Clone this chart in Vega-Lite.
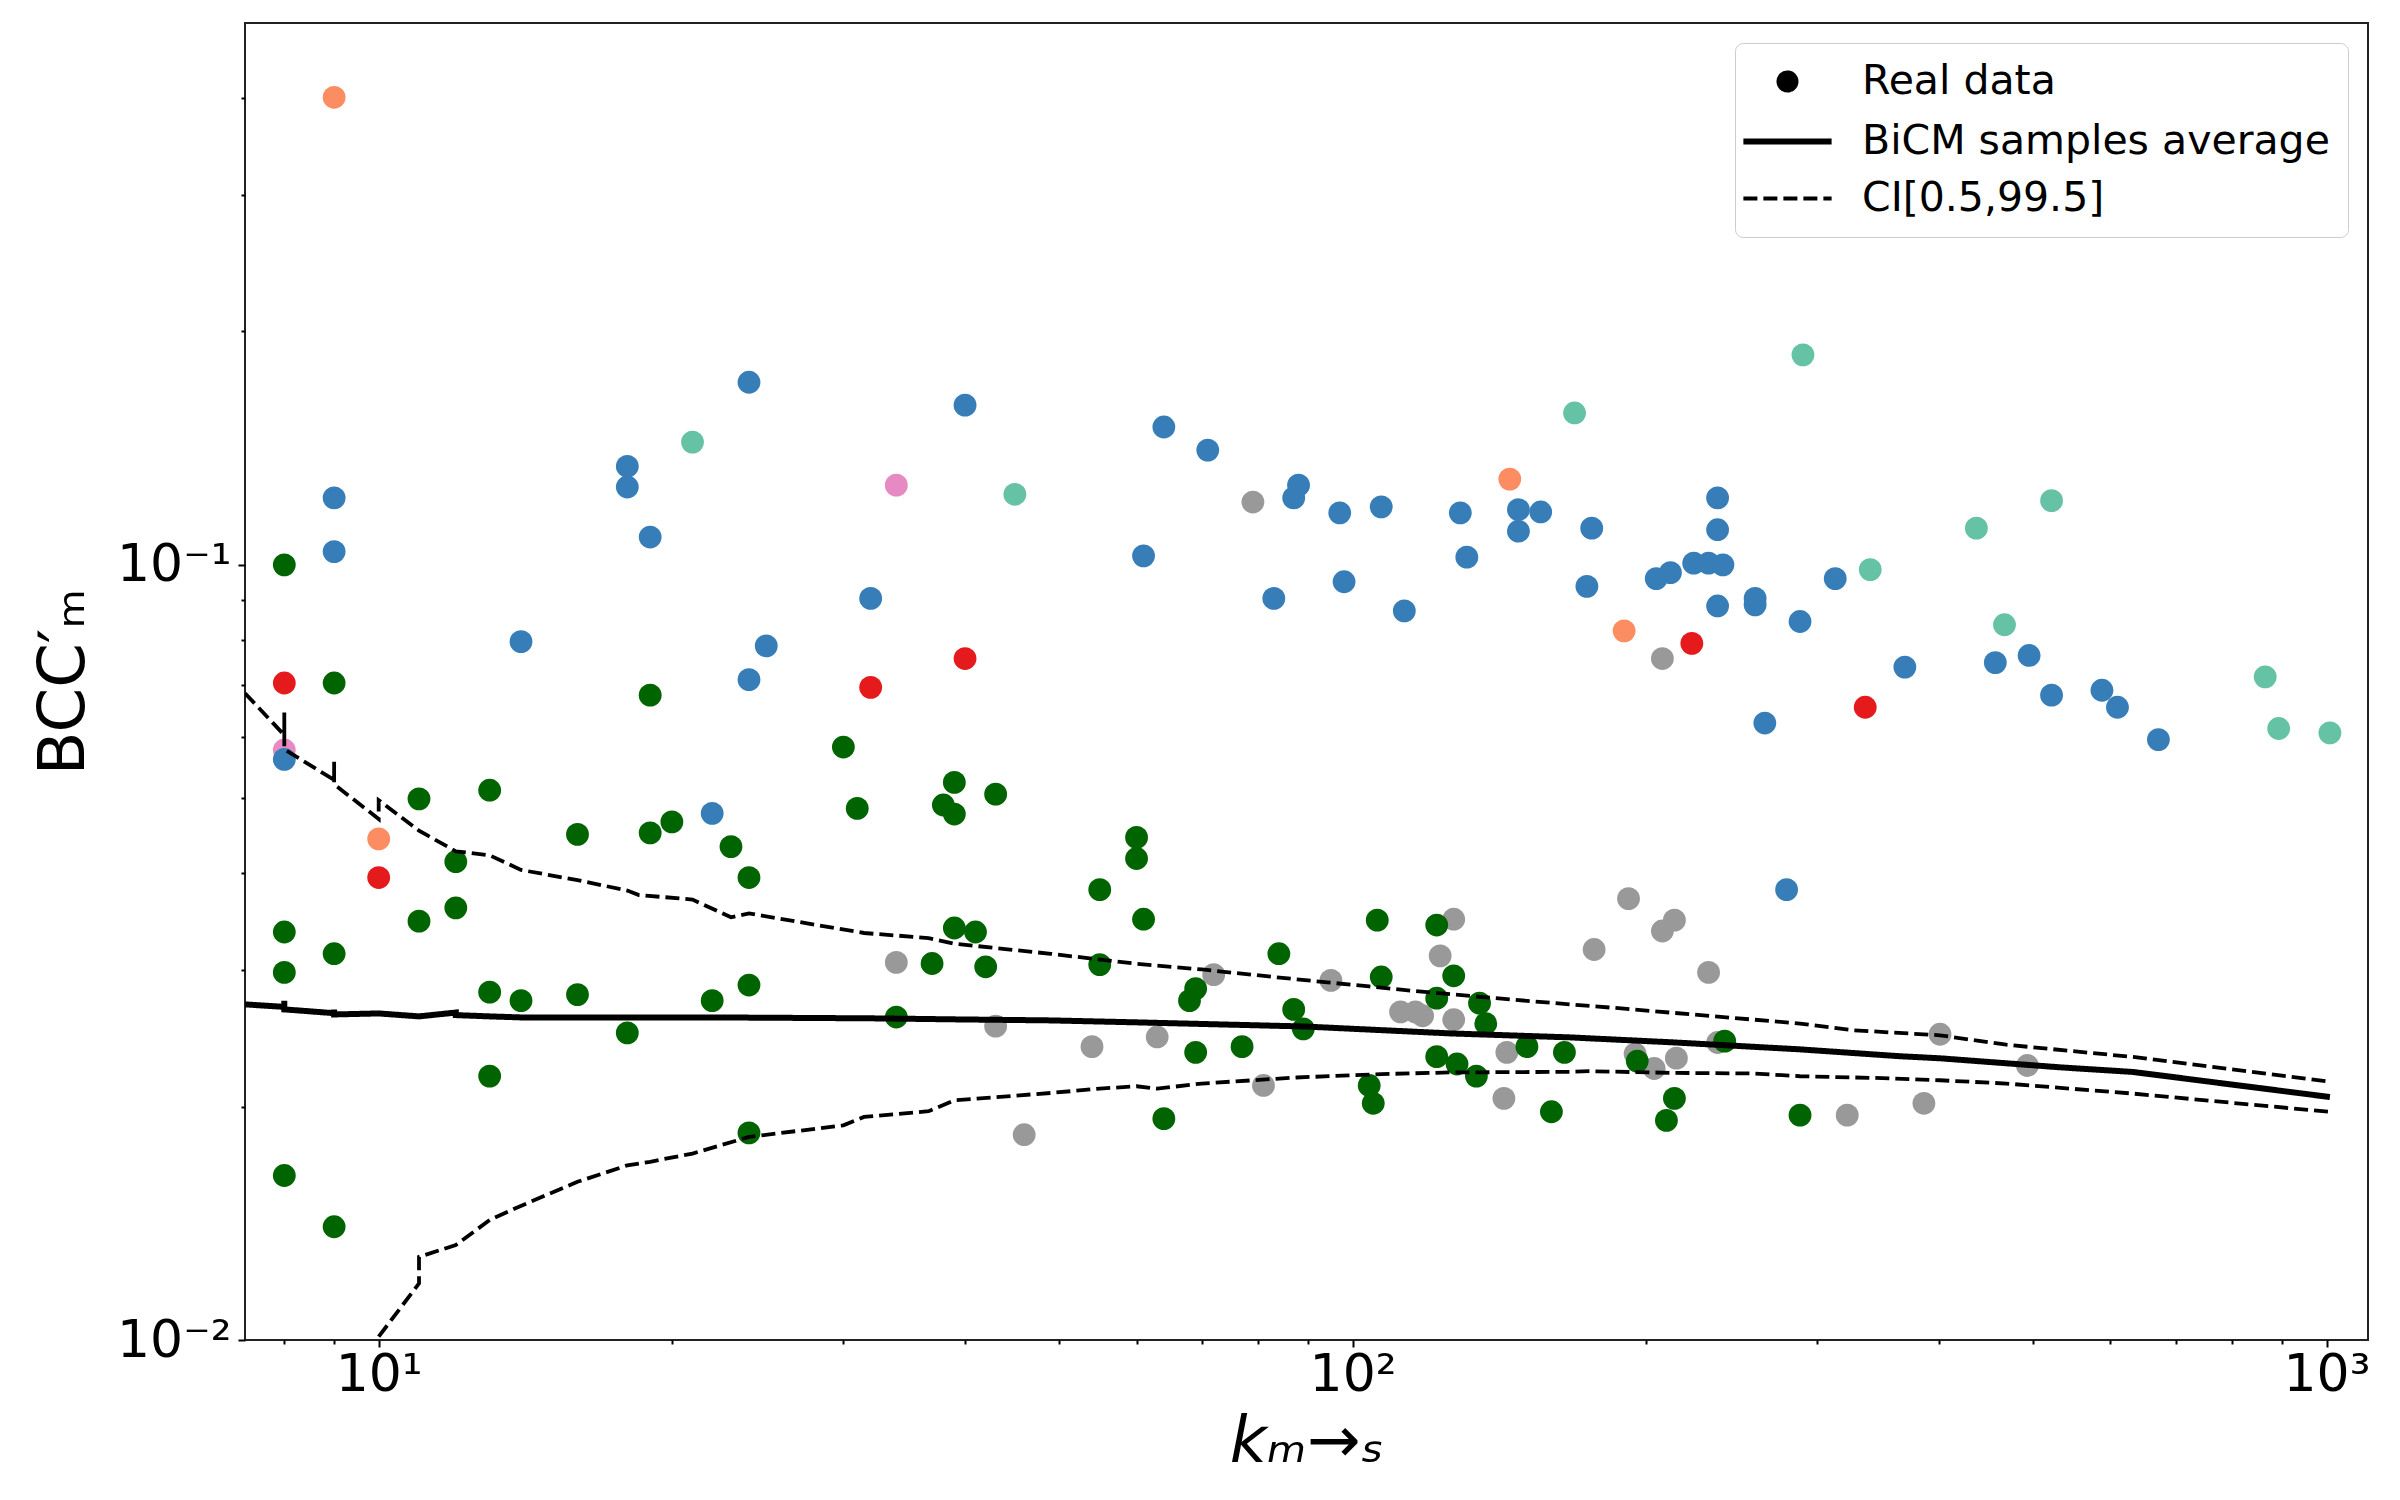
{
  "$schema": "https://vega.github.io/schema/vega-lite/v6.json",
  "width": 2123,
  "height": 1317,
  "autosize": {"type": "none"},
  "padding": {"left": 245, "top": 23, "right": 32, "bottom": 160},
  "background": "white",
  "config": {
    "view": {"stroke": "#222222", "strokeWidth": 2},
    "axis": {
      "domain": false,
      "grid": false,
      "tickColor": "black",
      "tickWidth": 2,
      "labelFont": "DejaVu Sans",
      "labelFontSize": 52,
      "labelColor": "black",
      "labelOverlap": false,
      "labelFlush": false,
      "titleFont": "DejaVu Sans",
      "titleFontSize": 64,
      "titleFontWeight": "normal",
      "titleColor": "black"
    },
    "legend": {
      "title": null,
      "orient": "top-right",
      "offset": 20,
      "labelFont": "DejaVu Sans",
      "labelFontSize": 41,
      "labelColor": "black",
      "labelLimit": 2000,
      "symbolSize": 190,
      "symbolFillColor": "black",
      "symbolStrokeColor": "black",
      "symbolOpacity": 1,
      "symbolOffset": 14,
      "labelOffset": 54,
      "rowPadding": 15,
      "padding": 18,
      "fillColor": "rgba(255,255,255,0.8)",
      "strokeColor": "#cccccc",
      "cornerRadius": 8
    }
  },
  "datasets": {
    "pts": [
      {"k": 34, "v": 0.0307, "g": "G7"}, {"k": 43, "v": 0.0254, "g": "G7"}, {"k": 46, "v": 0.0184, "g": "G7"},
      {"k": 54, "v": 0.0239, "g": "G7"}, {"k": 63, "v": 0.0246, "g": "G7"}, {"k": 72, "v": 0.0296, "g": "G7"},
      {"k": 79, "v": 0.1205, "g": "G7"}, {"k": 81, "v": 0.0213, "g": "G7"}, {"k": 95, "v": 0.0291, "g": "G7"},
      {"k": 112, "v": 0.0265, "g": "G7"}, {"k": 116, "v": 0.0265, "g": "G7"}, {"k": 118, "v": 0.0262, "g": "G7"},
      {"k": 123, "v": 0.0313, "g": "G7"}, {"k": 127, "v": 0.0349, "g": "G7"}, {"k": 127, "v": 0.0259, "g": "G7"},
      {"k": 144, "v": 0.0235, "g": "G7"}, {"k": 143, "v": 0.0205, "g": "G7"}, {"k": 177, "v": 0.0319, "g": "G7"},
      {"k": 192, "v": 0.0371, "g": "G7"}, {"k": 208, "v": 0.0757, "g": "G7"}, {"k": 208, "v": 0.0337, "g": "G7"},
      {"k": 214, "v": 0.0348, "g": "G7"}, {"k": 195, "v": 0.0234, "g": "G7"}, {"k": 204, "v": 0.0224, "g": "G7"},
      {"k": 215, "v": 0.0231, "g": "G7"}, {"k": 232, "v": 0.0298, "g": "G7"}, {"k": 237, "v": 0.0242, "g": "G7"},
      {"k": 322, "v": 0.0195, "g": "G7"}, {"k": 386, "v": 0.0202, "g": "G7"}, {"k": 401, "v": 0.0248, "g": "G7"},
      {"k": 493, "v": 0.0226, "g": "G7"},
      {"k": 8, "v": 0.0577, "g": "G6"}, {"k": 34, "v": 0.1267, "g": "G6"},
      {"k": 21, "v": 0.144, "g": "G2"}, {"k": 45, "v": 0.1233, "g": "G2"}, {"k": 169, "v": 0.157, "g": "G2"},
      {"k": 290, "v": 0.1866, "g": "G2"}, {"k": 340, "v": 0.0986, "g": "G2"}, {"k": 437, "v": 0.1115, "g": "G2"},
      {"k": 467, "v": 0.0837, "g": "G2"}, {"k": 522, "v": 0.121, "g": "G2"}, {"k": 865, "v": 0.0717, "g": "G2"},
      {"k": 893, "v": 0.0615, "g": "G2"}, {"k": 1008, "v": 0.0607, "g": "G2"},
      {"k": 9, "v": 0.401, "g": "G3"}, {"k": 10, "v": 0.0443, "g": "G3"}, {"k": 145, "v": 0.129, "g": "G3"},
      {"k": 190, "v": 0.0822, "g": "G3"},
      {"k": 8, "v": 0.0704, "g": "G4"}, {"k": 10, "v": 0.0395, "g": "G4"}, {"k": 32, "v": 0.0695, "g": "G4"},
      {"k": 40, "v": 0.0757, "g": "G4"}, {"k": 223, "v": 0.0792, "g": "G4"}, {"k": 336, "v": 0.0655, "g": "G4"},
      {"k": 8, "v": 0.1, "g": "G5"}, {"k": 8, "v": 0.0336, "g": "G5"}, {"k": 8, "v": 0.0298, "g": "G5"},
      {"k": 8, "v": 0.0163, "g": "G5"}, {"k": 9, "v": 0.0704, "g": "G5"}, {"k": 9, "v": 0.0315, "g": "G5"},
      {"k": 9, "v": 0.014, "g": "G5"}, {"k": 11, "v": 0.0499, "g": "G5"}, {"k": 11, "v": 0.0347, "g": "G5"},
      {"k": 12, "v": 0.0414, "g": "G5"}, {"k": 12, "v": 0.0361, "g": "G5"}, {"k": 13, "v": 0.0512, "g": "G5"},
      {"k": 13, "v": 0.0281, "g": "G5"}, {"k": 13, "v": 0.0219, "g": "G5"}, {"k": 14, "v": 0.0274, "g": "G5"},
      {"k": 16, "v": 0.0449, "g": "G5"}, {"k": 16, "v": 0.0279, "g": "G5"}, {"k": 18, "v": 0.0249, "g": "G5"},
      {"k": 19, "v": 0.0679, "g": "G5"}, {"k": 19, "v": 0.0451, "g": "G5"}, {"k": 20, "v": 0.0466, "g": "G5"},
      {"k": 22, "v": 0.0274, "g": "G5"}, {"k": 23, "v": 0.0433, "g": "G5"}, {"k": 24, "v": 0.0395, "g": "G5"},
      {"k": 24, "v": 0.0287, "g": "G5"}, {"k": 24, "v": 0.0185, "g": "G5"}, {"k": 30, "v": 0.0582, "g": "G5"},
      {"k": 31, "v": 0.0485, "g": "G5"}, {"k": 34, "v": 0.0261, "g": "G5"}, {"k": 37, "v": 0.0306, "g": "G5"},
      {"k": 38, "v": 0.049, "g": "G5"}, {"k": 39, "v": 0.0524, "g": "G5"}, {"k": 39, "v": 0.0477, "g": "G5"},
      {"k": 39, "v": 0.034, "g": "G5"}, {"k": 41, "v": 0.0336, "g": "G5"}, {"k": 42, "v": 0.0303, "g": "G5"},
      {"k": 43, "v": 0.0506, "g": "G5"}, {"k": 55, "v": 0.0381, "g": "G5"}, {"k": 55, "v": 0.0305, "g": "G5"},
      {"k": 60, "v": 0.0445, "g": "G5"}, {"k": 60, "v": 0.0418, "g": "G5"}, {"k": 61, "v": 0.0349, "g": "G5"},
      {"k": 64, "v": 0.0193, "g": "G5"}, {"k": 68, "v": 0.0274, "g": "G5"}, {"k": 69, "v": 0.0284, "g": "G5"},
      {"k": 69, "v": 0.0235, "g": "G5"}, {"k": 77, "v": 0.0239, "g": "G5"}, {"k": 84, "v": 0.0315, "g": "G5"},
      {"k": 87, "v": 0.0267, "g": "G5"}, {"k": 89, "v": 0.0252, "g": "G5"}, {"k": 106, "v": 0.0348, "g": "G5"},
      {"k": 107, "v": 0.0294, "g": "G5"}, {"k": 104, "v": 0.0213, "g": "G5"}, {"k": 105, "v": 0.0202, "g": "G5"},
      {"k": 122, "v": 0.0343, "g": "G5"}, {"k": 122, "v": 0.0276, "g": "G5"}, {"k": 122, "v": 0.0232, "g": "G5"},
      {"k": 127, "v": 0.0295, "g": "G5"}, {"k": 128, "v": 0.0227, "g": "G5"}, {"k": 134, "v": 0.0219, "g": "G5"},
      {"k": 135, "v": 0.0272, "g": "G5"}, {"k": 137, "v": 0.0256, "g": "G5"}, {"k": 151, "v": 0.0239, "g": "G5"},
      {"k": 160, "v": 0.0197, "g": "G5"}, {"k": 165, "v": 0.0235, "g": "G5"}, {"k": 196, "v": 0.0229, "g": "G5"},
      {"k": 210, "v": 0.0192, "g": "G5"}, {"k": 214, "v": 0.0205, "g": "G5"}, {"k": 241, "v": 0.0243, "g": "G5"},
      {"k": 288, "v": 0.0195, "g": "G5"},
      {"k": 8, "v": 0.0561, "g": "G1"}, {"k": 9, "v": 0.122, "g": "G1"}, {"k": 9, "v": 0.104, "g": "G1"},
      {"k": 14, "v": 0.0796, "g": "G1"}, {"k": 18, "v": 0.134, "g": "G1"}, {"k": 18, "v": 0.126, "g": "G1"},
      {"k": 19, "v": 0.1086, "g": "G1"}, {"k": 22, "v": 0.0478, "g": "G1"}, {"k": 24, "v": 0.172, "g": "G1"},
      {"k": 24, "v": 0.0711, "g": "G1"}, {"k": 25, "v": 0.0786, "g": "G1"}, {"k": 32, "v": 0.0905, "g": "G1"},
      {"k": 40, "v": 0.1607, "g": "G1"}, {"k": 61, "v": 0.1027, "g": "G1"}, {"k": 64, "v": 0.1506, "g": "G1"},
      {"k": 71, "v": 0.1406, "g": "G1"}, {"k": 83, "v": 0.0905, "g": "G1"}, {"k": 87, "v": 0.122, "g": "G1"},
      {"k": 88, "v": 0.1267, "g": "G1"}, {"k": 97, "v": 0.1167, "g": "G1"}, {"k": 98, "v": 0.0951, "g": "G1"},
      {"k": 107, "v": 0.1188, "g": "G1"}, {"k": 113, "v": 0.0872, "g": "G1"}, {"k": 129, "v": 0.1167, "g": "G1"},
      {"k": 131, "v": 0.1023, "g": "G1"}, {"k": 148, "v": 0.1178, "g": "G1"}, {"k": 148, "v": 0.1105, "g": "G1"},
      {"k": 156, "v": 0.117, "g": "G1"}, {"k": 174, "v": 0.0938, "g": "G1"}, {"k": 176, "v": 0.1115, "g": "G1"},
      {"k": 205, "v": 0.096, "g": "G1"}, {"k": 212, "v": 0.0977, "g": "G1"}, {"k": 224, "v": 0.1005, "g": "G1"},
      {"k": 232, "v": 0.1005, "g": "G1"}, {"k": 240, "v": 0.1, "g": "G1"}, {"k": 237, "v": 0.122, "g": "G1"},
      {"k": 237, "v": 0.111, "g": "G1"}, {"k": 237, "v": 0.0885, "g": "G1"}, {"k": 259, "v": 0.0905, "g": "G1"},
      {"k": 259, "v": 0.0888, "g": "G1"}, {"k": 265, "v": 0.0625, "g": "G1"}, {"k": 279, "v": 0.0381, "g": "G1"},
      {"k": 288, "v": 0.0845, "g": "G1"}, {"k": 313, "v": 0.096, "g": "G1"}, {"k": 369, "v": 0.0738, "g": "G1"},
      {"k": 457, "v": 0.0748, "g": "G1"}, {"k": 495, "v": 0.0764, "g": "G1"}, {"k": 522, "v": 0.0679, "g": "G1"},
      {"k": 588, "v": 0.0689, "g": "G1"}, {"k": 610, "v": 0.0655, "g": "G1"}, {"k": 672, "v": 0.0595, "g": "G1"}
    ],
    "curves": [
      {"series": "avg", "style": "BiCM samples average", "i": 0, "k": 7.29, "v": 0.0271},
      {"series": "avg", "style": "BiCM samples average", "i": 1, "k": 8, "v": 0.0269},
      {"series": "avg", "style": "BiCM samples average", "i": 2, "k": 8, "v": 0.0274},
      {"series": "avg", "style": "BiCM samples average", "i": 3, "k": 8, "v": 0.0267},
      {"series": "avg", "style": "BiCM samples average", "i": 4, "k": 9, "v": 0.0264},
      {"series": "avg", "style": "BiCM samples average", "i": 5, "k": 9, "v": 0.0267},
      {"series": "avg", "style": "BiCM samples average", "i": 6, "k": 9, "v": 0.0263},
      {"series": "avg", "style": "BiCM samples average", "i": 7, "k": 10, "v": 0.02638},
      {"series": "avg", "style": "BiCM samples average", "i": 8, "k": 11, "v": 0.02615},
      {"series": "avg", "style": "BiCM samples average", "i": 9, "k": 12, "v": 0.02645},
      {"series": "avg", "style": "BiCM samples average", "i": 10, "k": 12, "v": 0.02625},
      {"series": "avg", "style": "BiCM samples average", "i": 11, "k": 13, "v": 0.02615},
      {"series": "avg", "style": "BiCM samples average", "i": 12, "k": 14, "v": 0.02607},
      {"series": "avg", "style": "BiCM samples average", "i": 13, "k": 18, "v": 0.02607},
      {"series": "avg", "style": "BiCM samples average", "i": 14, "k": 22, "v": 0.02607},
      {"series": "avg", "style": "BiCM samples average", "i": 15, "k": 32, "v": 0.026},
      {"series": "avg", "style": "BiCM samples average", "i": 16, "k": 39, "v": 0.02592},
      {"series": "avg", "style": "BiCM samples average", "i": 17, "k": 49, "v": 0.02584},
      {"series": "avg", "style": "BiCM samples average", "i": 18, "k": 60, "v": 0.02569},
      {"series": "avg", "style": "BiCM samples average", "i": 19, "k": 89, "v": 0.02538},
      {"series": "avg", "style": "BiCM samples average", "i": 20, "k": 126, "v": 0.02486},
      {"series": "avg", "style": "BiCM samples average", "i": 21, "k": 167, "v": 0.02457},
      {"series": "avg", "style": "BiCM samples average", "i": 22, "k": 213, "v": 0.02421},
      {"series": "avg", "style": "BiCM samples average", "i": 23, "k": 288, "v": 0.02371},
      {"series": "avg", "style": "BiCM samples average", "i": 24, "k": 365, "v": 0.02323},
      {"series": "avg", "style": "BiCM samples average", "i": 25, "k": 401, "v": 0.02309},
      {"series": "avg", "style": "BiCM samples average", "i": 26, "k": 532, "v": 0.02248},
      {"series": "avg", "style": "BiCM samples average", "i": 27, "k": 633, "v": 0.02217},
      {"series": "avg", "style": "BiCM samples average", "i": 28, "k": 1008, "v": 0.02058},
      {"series": "upper", "style": "CI[0.5,99.5]", "i": 0, "k": 7.29, "v": 0.0683},
      {"series": "upper", "style": "CI[0.5,99.5]", "i": 1, "k": 8, "v": 0.0603},
      {"series": "upper", "style": "CI[0.5,99.5]", "i": 2, "k": 8, "v": 0.0645},
      {"series": "upper", "style": "CI[0.5,99.5]", "i": 3, "k": 8, "v": 0.0578},
      {"series": "upper", "style": "CI[0.5,99.5]", "i": 4, "k": 9, "v": 0.0528},
      {"series": "upper", "style": "CI[0.5,99.5]", "i": 5, "k": 9, "v": 0.0557},
      {"series": "upper", "style": "CI[0.5,99.5]", "i": 6, "k": 9, "v": 0.0521},
      {"series": "upper", "style": "CI[0.5,99.5]", "i": 7, "k": 10, "v": 0.047},
      {"series": "upper", "style": "CI[0.5,99.5]", "i": 8, "k": 10, "v": 0.0497},
      {"series": "upper", "style": "CI[0.5,99.5]", "i": 9, "k": 11, "v": 0.0454},
      {"series": "upper", "style": "CI[0.5,99.5]", "i": 10, "k": 12, "v": 0.0427},
      {"series": "upper", "style": "CI[0.5,99.5]", "i": 11, "k": 13, "v": 0.0422},
      {"series": "upper", "style": "CI[0.5,99.5]", "i": 12, "k": 14, "v": 0.0404},
      {"series": "upper", "style": "CI[0.5,99.5]", "i": 13, "k": 16, "v": 0.0392},
      {"series": "upper", "style": "CI[0.5,99.5]", "i": 14, "k": 18, "v": 0.038},
      {"series": "upper", "style": "CI[0.5,99.5]", "i": 15, "k": 18.5, "v": 0.0375},
      {"series": "upper", "style": "CI[0.5,99.5]", "i": 16, "k": 21, "v": 0.037},
      {"series": "upper", "style": "CI[0.5,99.5]", "i": 17, "k": 23, "v": 0.0351},
      {"series": "upper", "style": "CI[0.5,99.5]", "i": 18, "k": 24, "v": 0.0355},
      {"series": "upper", "style": "CI[0.5,99.5]", "i": 19, "k": 31.5, "v": 0.0335},
      {"series": "upper", "style": "CI[0.5,99.5]", "i": 20, "k": 36.7, "v": 0.033},
      {"series": "upper", "style": "CI[0.5,99.5]", "i": 21, "k": 39, "v": 0.03245},
      {"series": "upper", "style": "CI[0.5,99.5]", "i": 22, "k": 49, "v": 0.03149},
      {"series": "upper", "style": "CI[0.5,99.5]", "i": 23, "k": 60, "v": 0.03057},
      {"series": "upper", "style": "CI[0.5,99.5]", "i": 24, "k": 70, "v": 0.03006},
      {"series": "upper", "style": "CI[0.5,99.5]", "i": 25, "k": 86.5, "v": 0.02924},
      {"series": "upper", "style": "CI[0.5,99.5]", "i": 26, "k": 104, "v": 0.02858},
      {"series": "upper", "style": "CI[0.5,99.5]", "i": 27, "k": 116, "v": 0.02819},
      {"series": "upper", "style": "CI[0.5,99.5]", "i": 28, "k": 136, "v": 0.02769},
      {"series": "upper", "style": "CI[0.5,99.5]", "i": 29, "k": 167, "v": 0.0271},
      {"series": "upper", "style": "CI[0.5,99.5]", "i": 30, "k": 190, "v": 0.02676},
      {"series": "upper", "style": "CI[0.5,99.5]", "i": 31, "k": 233, "v": 0.02618},
      {"series": "upper", "style": "CI[0.5,99.5]", "i": 32, "k": 288, "v": 0.0256},
      {"series": "upper", "style": "CI[0.5,99.5]", "i": 33, "k": 326, "v": 0.0251},
      {"series": "upper", "style": "CI[0.5,99.5]", "i": 34, "k": 401, "v": 0.02472},
      {"series": "upper", "style": "CI[0.5,99.5]", "i": 35, "k": 469, "v": 0.02404},
      {"series": "upper", "style": "CI[0.5,99.5]", "i": 36, "k": 633, "v": 0.02318},
      {"series": "upper", "style": "CI[0.5,99.5]", "i": 37, "k": 1008, "v": 0.02154},
      {"series": "lower", "style": "CI[0.5,99.5]", "i": 0, "k": 10, "v": 0.0101},
      {"series": "lower", "style": "CI[0.5,99.5]", "i": 1, "k": 11, "v": 0.01183},
      {"series": "lower", "style": "CI[0.5,99.5]", "i": 2, "k": 11, "v": 0.0128},
      {"series": "lower", "style": "CI[0.5,99.5]", "i": 3, "k": 12, "v": 0.01326},
      {"series": "lower", "style": "CI[0.5,99.5]", "i": 4, "k": 13, "v": 0.01428},
      {"series": "lower", "style": "CI[0.5,99.5]", "i": 5, "k": 13.8, "v": 0.01478},
      {"series": "lower", "style": "CI[0.5,99.5]", "i": 6, "k": 16, "v": 0.016},
      {"series": "lower", "style": "CI[0.5,99.5]", "i": 7, "k": 18, "v": 0.0168},
      {"series": "lower", "style": "CI[0.5,99.5]", "i": 8, "k": 19, "v": 0.01698},
      {"series": "lower", "style": "CI[0.5,99.5]", "i": 9, "k": 21, "v": 0.0174},
      {"series": "lower", "style": "CI[0.5,99.5]", "i": 10, "k": 24, "v": 0.01828},
      {"series": "lower", "style": "CI[0.5,99.5]", "i": 11, "k": 30, "v": 0.01892},
      {"series": "lower", "style": "CI[0.5,99.5]", "i": 12, "k": 31.5, "v": 0.0194},
      {"series": "lower", "style": "CI[0.5,99.5]", "i": 13, "k": 36.7, "v": 0.01973},
      {"series": "lower", "style": "CI[0.5,99.5]", "i": 14, "k": 39, "v": 0.02038},
      {"series": "lower", "style": "CI[0.5,99.5]", "i": 15, "k": 49, "v": 0.02083},
      {"series": "lower", "style": "CI[0.5,99.5]", "i": 16, "k": 55, "v": 0.0211},
      {"series": "lower", "style": "CI[0.5,99.5]", "i": 17, "k": 60, "v": 0.02125},
      {"series": "lower", "style": "CI[0.5,99.5]", "i": 18, "k": 63, "v": 0.0211},
      {"series": "lower", "style": "CI[0.5,99.5]", "i": 19, "k": 70, "v": 0.02142},
      {"series": "lower", "style": "CI[0.5,99.5]", "i": 20, "k": 87.6, "v": 0.02181},
      {"series": "lower", "style": "CI[0.5,99.5]", "i": 21, "k": 107, "v": 0.02203},
      {"series": "lower", "style": "CI[0.5,99.5]", "i": 22, "k": 126, "v": 0.02214},
      {"series": "lower", "style": "CI[0.5,99.5]", "i": 23, "k": 167, "v": 0.02218},
      {"series": "lower", "style": "CI[0.5,99.5]", "i": 24, "k": 175, "v": 0.02222},
      {"series": "lower", "style": "CI[0.5,99.5]", "i": 25, "k": 214, "v": 0.02211},
      {"series": "lower", "style": "CI[0.5,99.5]", "i": 26, "k": 258, "v": 0.02207},
      {"series": "lower", "style": "CI[0.5,99.5]", "i": 27, "k": 288, "v": 0.02189},
      {"series": "lower", "style": "CI[0.5,99.5]", "i": 28, "k": 344, "v": 0.02178},
      {"series": "lower", "style": "CI[0.5,99.5]", "i": 29, "k": 401, "v": 0.02163},
      {"series": "lower", "style": "CI[0.5,99.5]", "i": 30, "k": 469, "v": 0.02142},
      {"series": "lower", "style": "CI[0.5,99.5]", "i": 31, "k": 633, "v": 0.02079},
      {"series": "lower", "style": "CI[0.5,99.5]", "i": 32, "k": 1008, "v": 0.01969}
    ]
  },
  "encoding": {
    "x": {
      "field": "k",
      "type": "quantitative",
      "scale": {"type": "log", "domain": [7.29, 1103], "nice": false},
      "axis": {
        "values": [8, 9, 10, 20, 30, 40, 50, 60, 70, 80, 90, 100, 200, 300, 400, 500, 600, 700, 800, 900, 1000],
        "labelExpr": "datum.value == 10 ? '10¹' : datum.value == 100 ? '10²' : datum.value == 1000 ? '10³' : ''",
        "tickSize": {"condition": {"test": "datum.value == 10 || datum.value == 100 || datum.value == 1000", "value": 7}, "value": 4},
        "labelPadding": 2,
        "title": "kₘ→ₛ",
        "titleFontStyle": "italic",
        "titlePadding": 10
      }
    },
    "y": {
      "field": "v",
      "type": "quantitative",
      "scale": {"type": "log", "domain": [0.01, 0.5], "nice": false},
      "axis": {
        "values": [0.01, 0.02, 0.03, 0.04, 0.05, 0.06, 0.07, 0.08, 0.09, 0.1, 0.2, 0.3, 0.4],
        "labelExpr": "datum.value == 0.01 ? '10⁻²' : datum.value == 0.1 ? '10⁻¹' : ''",
        "tickSize": {"condition": {"test": "datum.value == 0.01 || datum.value == 0.1", "value": 7}, "value": 4},
        "labelPadding": 7,
        "title": "BCC′ₘ",
        "titlePadding": 20
      }
    }
  },
  "layer": [
    {
      "data": {"name": "pts"},
      "mark": {"type": "point", "filled": true, "size": 520, "opacity": 1, "strokeWidth": 0},
      "encoding": {
        "color": {
          "field": "g",
          "type": "nominal",
          "scale": {
            "domain": ["G1", "G2", "G3", "G4", "G5", "G6", "G7"],
            "range": ["#377eb8", "#66c2a5", "#fc8d62", "#e41a1c", "#006400", "#e78ac3", "#999999"]
          },
          "legend": null
        },
        "shape": {
          "datum": "Real data",
          "type": "nominal",
          "scale": {
            "domain": ["Real data", "BiCM samples average", "CI[0.5,99.5]"],
            "range": ["circle", "M-6.4,0H6.4", "M-6.4,0H6.4"]
          }
        }
      }
    },
    {
      "data": {"name": "curves"},
      "transform": [{"filter": "datum.series == 'avg'"}],
      "mark": {"type": "line", "color": "black", "clip": true},
      "encoding": {
        "order": {"field": "i", "type": "quantitative"},
        "strokeDash": {
          "field": "style",
          "type": "nominal",
          "scale": {
            "domain": ["Real data", "BiCM samples average", "CI[0.5,99.5]"],
            "range": [[1, 0], [1, 0], [14, 6]]
          }
        },
        "strokeWidth": {
          "field": "style",
          "type": "ordinal",
          "scale": {
            "type": "point",
            "padding": 0,
            "domain": ["Real data", "BiCM samples average", "CI[0.5,99.5]"],
            "range": [8.2, 3.8]
          }
        }
      }
    },
    {
      "data": {"name": "curves"},
      "transform": [{"filter": "datum.series != 'avg'"}],
      "mark": {"type": "line", "color": "black", "clip": true},
      "encoding": {
        "detail": {"field": "series", "type": "nominal"},
        "order": {"field": "i", "type": "quantitative"},
        "strokeDash": {"field": "style", "type": "nominal"},
        "strokeWidth": {"field": "style", "type": "ordinal"}
      }
    }
  ]
}
